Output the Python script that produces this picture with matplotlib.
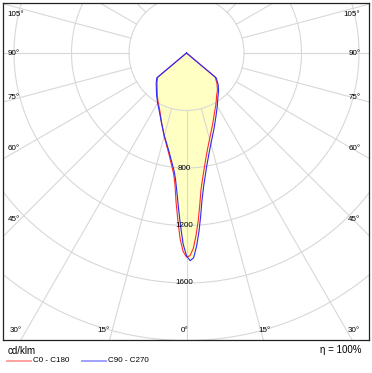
import numpy as np
import matplotlib.pyplot as plt
from matplotlib.lines import Line2D

plt.rcParams['font.family'] = ['Liberation Sans', 'DejaVu Sans']

# gamma angle in degrees, negative = left half (C180 / C270)
gamma = [-55, -50, -45, -40, -35, -30, -25, -20, -15, -12.5, -10, -7.5, -6, -5, -4, -3, -2, -1,
         0, 1, 2, 3, 4, 5, 6, 7.5, 10, 12.5, 15, 20, 25, 30, 35, 40, 45, 50, 55]
c0_c180 = [0, 262, 290, 318, 355, 395, 440, 510, 600, 650, 710, 790, 850, 920, 1040, 1160, 1290, 1380,
           1420, 1410, 1360, 1270, 1170, 1060, 960, 870, 760, 680, 620, 530, 460, 410, 365, 335, 300, 260, 0]
c90_c270 = [0, 270, 298, 326, 362, 402, 447, 512, 596, 642, 698, 772, 825, 880, 965, 1075, 1200, 1330,
            1410, 1445, 1425, 1345, 1245, 1135, 1030, 925, 805, 720, 655, 560, 485, 428, 380, 347, 312, 270, 0]

rings = [400, 800, 1200, 1600, 2000, 2400]
ring_labels = [800, 1200, 1600]
spokes = np.arange(0, 360, 15)
angle_labels = [-105, -90, -75, -60, -45, -30, -15, 0, 15, 30, 45, 60, 75, 90, 105]

px = 57.5 / 400      # pixels per cd/klm
cx, cy = 186.5, 53   # centre of the diagram in pixels
grid_col = '#d8d8d8'


def xy(ang, r):
    a = np.radians(np.asarray(ang, dtype=float))
    r = np.asarray(r, dtype=float)
    return r * np.sin(a), -r * np.cos(a)


fig = plt.figure(figsize=(3.72, 3.73), dpi=100)
ax = fig.add_axes([3 / 372, 1 - 340 / 373, 366 / 372, 337 / 373])
ax.set_xlim((3 - cx) / px, (369 - cx) / px)
ax.set_ylim((cy - 340) / px, (cy - 3) / px)
ax.set_xticks([])
ax.set_yticks([])
for s in ax.spines.values():
    s.set_linewidth(0.9)
    s.set_color('#222222')

# filled area
ax.fill(*xy(gamma, c90_c270), color='#ffffc4', lw=0, zorder=1)
ax.fill(*xy(gamma, c0_c180), color='#ffffc4', lw=0, zorder=1)

# grid
t = np.linspace(0, 360, 721)
for r in rings:
    ax.plot(*xy(t, np.full_like(t, r)), color=grid_col, lw=0.8, zorder=2)
for a in spokes:
    ax.plot(*xy([a, a], [rings[0], 3000]), color=grid_col, lw=0.8, zorder=2)

# curves
ax.plot(*xy(gamma, c0_c180), color='#ff2a2a', lw=0.8, zorder=3)
ax.plot(*xy(gamma, c90_c270), color='#2a2aff', lw=0.8, zorder=3)

# ring values
for r in ring_labels:
    ax.text(-2 / px, -r, str(r), fontsize=5.8, ha='center', va='center', zorder=4)

# angle labels
for a in angle_labels:
    if abs(a) >= 45:
        y = -(166 / px) / np.tan(np.radians(abs(a)))
        y = min(y, (cy - 14) / px)
        if a < 0:
            ax.text((7.5 - cx) / px, y, f'{abs(a)}°', fontsize=5.8, ha='left', va='center')
        else:
            ax.text((360.5 - cx) / px, y, f'{abs(a)}°', fontsize=5.8, ha='right', va='center')
    else:
        y = (cy - 331) / px
        xh = (340 - cy) / px * np.tan(np.radians(a))
        if a < 0:
            ax.text(xh + 0.5 / px, y, f'{abs(a)}°', fontsize=5.8, ha='right', va='center')
        elif a == 0:
            ax.text(xh - 2 / px, y, f'{abs(a)}°', fontsize=5.8, ha='center', va='center')
        else:
            ax.text(xh + 1.5 / px, y, f'{abs(a)}°', fontsize=5.8, ha='center', va='center')

# legend under the frame
fig.text(8 / 372, 1 - 351 / 373, 'cd/klm', fontsize=7, va='center')
fig.add_artist(Line2D([7 / 372, 31 / 372], [1 - 360.5 / 373] * 2, color='#ffa0a0', lw=1.4))
fig.text(33 / 372, 1 - 360.5 / 373, 'C0 - C180', fontsize=5.8, va='center')
fig.add_artist(Line2D([82 / 372, 106 / 372], [1 - 360.5 / 373] * 2, color='#a0a0ff', lw=1.4))
fig.text(108 / 372, 1 - 360.5 / 373, 'C90 - C270', fontsize=5.8, va='center')
fig.text(362 / 372, 1 - 350 / 373, 'η = 100%', fontsize=7, ha='right', va='center')

fig.savefig('out.png', dpi=100)
